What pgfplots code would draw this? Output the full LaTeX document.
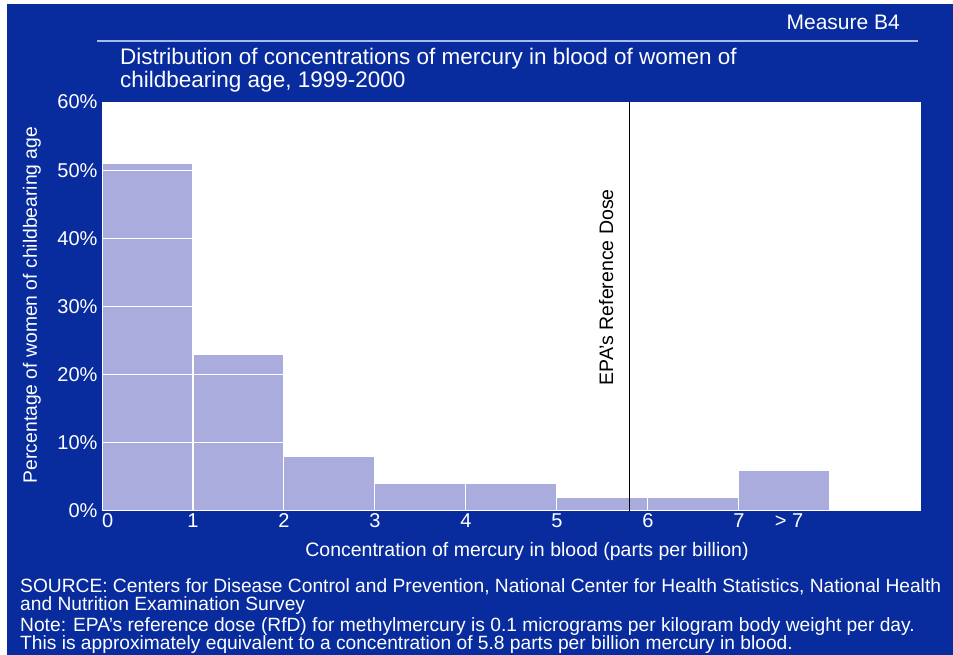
\documentclass[border=0pt]{standalone}
\usepackage{fontspec}
\setmainfont{Liberation Sans}
\usepackage{pgfplots}
\pgfplotsset{compat=1.18}
\definecolor{bgblue}{RGB}{8,44,158}
\definecolor{barfill}{RGB}{170,172,222}
\definecolor{rulecol}{RGB}{170,185,230}
\begin{document}
\begin{tikzpicture}[x=1pt,y=1pt]
\useasboundingbox (0,0) rectangle (953,655);
\fill[white] (0,0) rectangle (953,655);
\fill[bgblue] (7,0) rectangle (953,651);
% header
\node[anchor=base east, text=white, font=\fontsize{21}{24}\selectfont, inner sep=0pt] at (900,625) {Measure B4};
\draw[rulecol, line width=1.2pt] (97,614) -- (918,614);
\node[anchor=base west, text=white, font=\fontsize{22.5}{26}\selectfont, inner sep=0pt] at (120,590) {Distribution of concentrations of mercury in blood of women of};
\node[anchor=base west, text=white, font=\fontsize{22.5}{26}\selectfont, inner sep=0pt] at (120,567) {childbearing age, 1999-2000};
\begin{axis}[
  at={(102pt,144pt)}, anchor=south west,
  scale only axis, width=819pt, height=409pt,
  xmin=0, xmax=9, ymin=0, ymax=60,
  axis background/.style={fill=white},
  axis line style={draw=none},
  tick style={draw=none},
  ytick={0,10,20,30,40,50,60},
  yticklabel={\pgfmathprintnumber{\tick}\%},
  xtick={0,1,2,3,4,5,6,7,7.55},
  xticklabels={\makebox[0pt][l]{0},1,2,3,4,5,6,7,{> 7}},
  tick label style={text=white, font=\fontsize{20}{22}\selectfont},
  /pgf/number format/assume math mode=true,
  yticklabel style={xshift=-1pt},
  xticklabel style={yshift=1pt},
  clip=false,
]
\addplot[ybar interval, fill=barfill, draw=white, line width=1pt] coordinates {(0,51) (1,23) (2,8) (3,4) (4,4) (5,2) (6,2) (7,6) (8,6)};
\pgfplotsinvokeforeach{10,20,30,40,50}{
  \draw[white, line width=1.2pt] (axis cs:0,#1) -- (axis cs:9,#1);
}
\addplot[black, line width=1.3pt] coordinates {(5.8,0) (5.8,60)};
\node[rotate=90, anchor=center, font=\fontsize{19.5}{22}\selectfont, text=black] at (axis cs:5.54,32.8) {EPA's Reference Dose};
\end{axis}
\node[rotate=90, anchor=center, text=white, font=\fontsize{19.3}{22}\selectfont] at (32,350) {Percentage of women of childbearing age};
\node[anchor=base, text=white, font=\fontsize{19.5}{22}\selectfont, inner sep=0pt] at (527,98) {Concentration of mercury in blood (parts per billion)};
\begin{scope}[every node/.style={anchor=base west, text=white, font=\fontsize{19.2}{22}\selectfont, inner sep=0pt}]
\node at (20,62) {SOURCE: Centers for Disease Control and Prevention, National Center for Health Statistics, National Health};
\node at (20,44) {and Nutrition Examination Survey};
\node at (20,23.5) {Note: EPA's reference dose (RfD) for methylmercury is 0.1 micrograms per kilogram body weight per day.};
\node at (20,5) {This is approximately equivalent to a concentration of 5.8 parts per billion mercury in blood.};
\end{scope}
\end{tikzpicture}
\end{document}
